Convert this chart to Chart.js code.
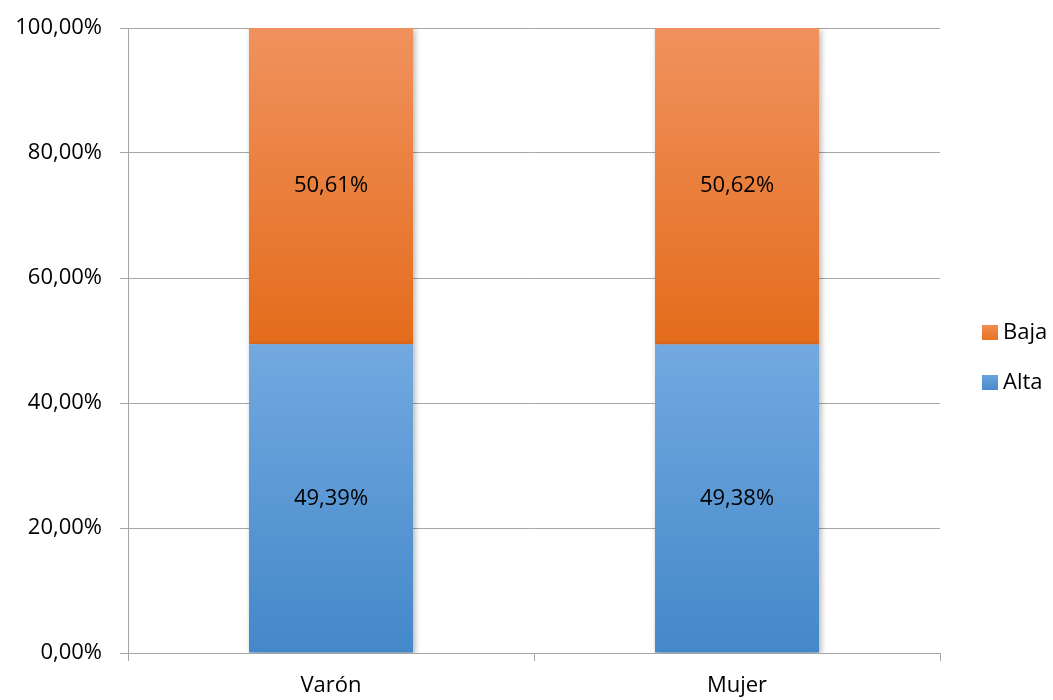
<!DOCTYPE html>
<html>
<head>
<meta charset="utf-8">
<script src="https://cdn.jsdelivr.net/npm/chart.js@4/dist/chart.umd.min.js"></script>
<style>
  html, body { margin: 0; padding: 0; background: #fff; }
  #wrap { width: 1053px; height: 700px; }
</style>
</head>
<body>
<div id="wrap"><canvas id="myChart" width="1053" height="700"></canvas></div>
<script>
const categories = ['Varón', 'Mujer'];
const alta = [49.39, 49.38];
const baja = [50.61, 50.62];
const yTicks = [0, 20, 40, 60, 80, 100];

const FONT = "'Open Sans', 'Liberation Sans', sans-serif";
const FSIZE = 22;

function fmt(v) {
    return v.toFixed(2).replace('.', ',') + '%';
}

// gradient per stacked segment, light at top, darker at bottom
function segGradient(top, bottom, startKey) {
    return function (context) {
        const chart = context.chart;
        const area = chart.chartArea;
        if (!area) return bottom;
        const y = chart.scales.y;
        const i = context.dataIndex;
        const lo = startKey === 'alta' ? 0 : alta[i];
        const hi = startKey === 'alta' ? alta[i] : alta[i] + baja[i];
        const g = chart.ctx.createLinearGradient(0, y.getPixelForValue(hi), 0, y.getPixelForValue(lo));
        g.addColorStop(0, top);
        g.addColorStop(1, bottom);
        return g;
    };
}

const barLabels = {
    id: 'barLabels',
    afterDatasetsDraw(chart) {
        const ctx = chart.ctx;
        ctx.save();
        ctx.font = FSIZE + 'px ' + FONT;
        ctx.fillStyle = '#000';
        ctx.textAlign = 'center';
        ctx.textBaseline = 'middle';
        chart.data.datasets.forEach((ds, di) => {
            chart.getDatasetMeta(di).data.forEach((bar, i) => {
                const p = bar.getProps(['x', 'y', 'base'], true);
                ctx.fillText(fmt(ds.data[i]), p.x, (p.y + p.base) / 2);
            });
        });
        ctx.restore();
    }
};

const barShadow = {
    id: 'barShadow',
    beforeDatasetsDraw(chart) {
        const ctx = chart.ctx;
        ctx.save();
        ctx.shadowColor = 'rgba(0,0,0,0.3)';
        ctx.shadowBlur = 6;
        ctx.shadowOffsetX = 2;
        ctx.shadowOffsetY = 2;
    },
    afterDatasetsDraw(chart) {
        chart.ctx.restore();
    }
};

const sideLegend = {
    id: 'sideLegend',
    afterDraw(chart) {
        const ctx = chart.ctx;
        const items = [
            { text: chart.data.datasets[1].label, top: '#f28c52', bottom: '#e8711f', y: 333 },
            { text: chart.data.datasets[0].label, top: '#6aa4dd', bottom: '#4489cb', y: 383 }
        ];
        ctx.save();
        ctx.font = FSIZE + 'px ' + FONT;
        ctx.textBaseline = 'middle';
        ctx.textAlign = 'left';
        items.forEach(it => {
            const g = ctx.createLinearGradient(0, it.y - 8, 0, it.y + 8);
            g.addColorStop(0, it.top);
            g.addColorStop(1, it.bottom);
            ctx.fillStyle = g;
            ctx.fillRect(982, it.y - 8, 16, 15);
            ctx.fillStyle = '#000';
            ctx.fillText(it.text, 1003, it.y);
        });
        ctx.restore();
    }
};

const ctx = document.getElementById('myChart').getContext('2d');
const myChart = new Chart(ctx, {
    type: 'bar',
    data: {
        labels: categories,
        datasets: [{
            label: 'Alta',
            data: alta,
            backgroundColor: segGradient('#72a9e0', '#4488c9', 'alta'),
            categoryPercentage: 1,
            barPercentage: 0.404
        }, {
            label: 'Baja',
            data: baja,
            backgroundColor: segGradient('#f0925e', '#e46c1c', 'baja'),
            categoryPercentage: 1,
            barPercentage: 0.404
        }]
    },
    plugins: [barShadow, barLabels, sideLegend],
    options: {
        responsive: false,
        animation: false,
        layout: { padding: { top: 28, right: 113, left: 0, bottom: 0 } },
        plugins: {
            legend: { display: false },
            tooltip: { enabled: false }
        },
        scales: {
            x: {
                stacked: true,
                afterFit(scale) { scale.height = 47; },
                grid: {
                    offset: true,
                    drawOnChartArea: false,
                    color: '#a6a6a6',
                    tickLength: 8
                },
                border: { color: '#a6a6a6' },
                ticks: { color: '#000', font: { family: FONT, size: FSIZE }, padding: 12 }
            },
            y: {
                stacked: true,
                min: 0,
                max: 100,
                afterFit(scale) {
                    scale.width = 128;
                    scale.paddingTop = 0;
                    scale.paddingBottom = 0;
                },
                afterBuildTicks(axis) {
                    axis.ticks = yTicks.map(v => ({ value: v }));
                },
                grid: { color: '#a6a6a6', tickLength: 8 },
                border: { color: '#a6a6a6' },
                ticks: {
                    color: '#000',
                    font: { family: FONT, size: FSIZE },
                    padding: 18,
                    callback: v => fmt(v)
                }
            }
        }
    }
});
</script>
</body>
</html>
